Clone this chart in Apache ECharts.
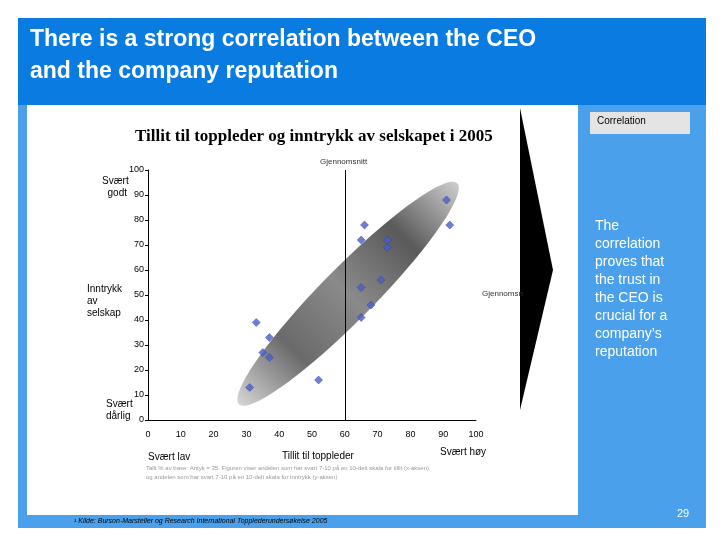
<!DOCTYPE html>
<html><head><meta charset="utf-8">
<script src="https://cdn.jsdelivr.net/npm/echarts@6/dist/echarts.min.js"></script>
<style>html,body{margin:0;padding:0;background:#fff}#ch{width:720px;height:540px}</style>
</head><body><div id="ch"></div>
<script>
var points = [[31,13],[33,39],[35,27],[37,33],[37,25],[52,16],[65,72],[66,78],[65,53],[65,41],[68,46],[71,56],[73,72],[73,69],[91,88],[92,78]];
var xTicks = [0,10,20,30,40,50,60,70,80,90,100];
var avgX = 60;
// ellipse: centre, half-length along main axis (data units), half-width
var ell = {cx: 61, cy: 50.5, ax: [33, 44.5], w: 9};

var ch = echarts.init(document.getElementById('ch'));
var op = {
  animation: false,
  grid: {left: 148, right: 244, top: 170, bottom: 120},
  xAxis: {
    type: 'value', min: 0, max: 100, interval: 10,
    axisLine: {lineStyle: {color: '#000'}}, axisTick: {show: false},
    splitLine: {show: false},
    axisLabel: {color: '#000', fontSize: 9, fontFamily: 'Liberation Sans', margin: 10}
  },
  yAxis: {
    type: 'value', min: 0, max: 100, interval: 10,
    axisLine: {show: true, lineStyle: {color: '#000'}}, axisTick: {show: true, length: 3},
    splitLine: {show: false},
    axisLabel: {color: '#000', fontSize: 9, fontFamily: 'Liberation Sans', margin: 4}
  },
  series: [{
    type: 'custom', silent: true, z: 1,
    data: [0],
    renderItem: function(params, api) {
      var pts = [];
      var len = Math.sqrt(ell.ax[0]*ell.ax[0] + ell.ax[1]*ell.ax[1]);
      var ux = ell.ax[0]/len, uy = ell.ax[1]/len;
      for (var i = 0; i < 72; i++) {
        var t = i / 72 * Math.PI * 2;
        var x = ell.cx + Math.cos(t)*ell.ax[0] + Math.sin(t)*ell.w*uy;
        var y = ell.cy + Math.cos(t)*ell.ax[1] - Math.sin(t)*ell.w*ux;
        pts.push(api.coord([x, y]));
      }
      return {type: 'polygon', shape: {points: pts},
        style: {fill: new echarts.graphic.LinearGradient(0, 1, 1, 0, [
          {offset: 0, color: '#d8d8d8'}, {offset: 0.25, color: '#6a6a6a'},
          {offset: 0.5, color: '#8a8a8a'}, {offset: 0.75, color: '#5a5a5a'}, {offset: 1, color: '#d0d0d0'}])}};
    }
  }, {
    type: 'scatter', symbol: 'diamond', symbolSize: 8, z: 3,
    itemStyle: {color: '#4a5fc8', borderColor: '#223399', borderWidth: 0.5},
    data: points,
    markLine: {
      silent: true, symbol: 'none', label: {show: false},
      lineStyle: {color: '#000', type: 'solid', width: 1},
      data: [{xAxis: avgX}]
    }
  }],
  graphic: [
    {type: 'rect', z: -10, shape: {x: 18, y: 18, width: 688, height: 510}, style: {fill: '#4aa0ea'}},
    {type: 'rect', z: -9, shape: {x: 18, y: 18, width: 688, height: 87}, style: {fill: '#0a7be0'}},
    {type: 'rect', z: -8, shape: {x: 27, y: 105, width: 551, height: 410}, style: {fill: '#fff'}},
    {type: 'text', left: 30, top: 24, style: {text: 'There is a strong correlation between the CEO\nand the company reputation', fill: '#fff', font: 'bold 23px Liberation Sans', lineHeight: 32}},
    {type: 'rect', shape: {x: 590, y: 112, width: 100, height: 22}, style: {fill: '#e4e4e4'}},
    {type: 'text', left: 597, top: 116, style: {text: 'Correlation', fill: '#000', font: '10px Liberation Sans'}},
    {type: 'polygon', shape: {points: [[520, 108], [553, 270], [520, 410]]}, style: {fill: '#000'}},
    {type: 'text', left: 595, top: 217, style: {text: 'The\ncorrelation\nproves that\nthe trust in\nthe CEO is\ncrucial for a\ncompany\u2019s\nreputation', fill: '#fff', font: '14px Liberation Sans', lineHeight: 18}},
    {type: 'text', left: 135, top: 128, style: {text: 'Tillit til toppleder og inntrykk av selskapet i 2005', fill: '#000', font: 'bold 17px Liberation Sans Narrow'}},
    {type: 'text', left: 320, top: 158, style: {text: 'Gjennomsnitt', fill: '#333', font: '8px Liberation Sans'}},
    {type: 'text', left: 482, top: 290, style: {text: 'Gjennomsn', fill: '#333', font: '8px Liberation Sans'}},
    {type: 'text', left: 102, top: 175, style: {text: 'Svært\n  godt', fill: '#000', font: '10px Liberation Sans', lineHeight: 12}},
    {type: 'text', left: 87, top: 283, style: {text: 'Inntrykk\nav\nselskap', fill: '#000', font: '10px Liberation Sans', lineHeight: 12}},
    {type: 'text', left: 106, top: 398, style: {text: 'Svært\ndårlig', fill: '#000', font: '10px Liberation Sans', lineHeight: 12}},
    {type: 'text', left: 148, top: 452, style: {text: 'Svært lav', fill: '#000', font: '10px Liberation Sans'}},
    {type: 'text', left: 282, top: 451, style: {text: 'Tillit til toppleder', fill: '#000', font: '10px Liberation Sans'}},
    {type: 'text', left: 440, top: 447, style: {text: 'Svært høy', fill: '#000', font: '10px Liberation Sans'}},
    {type: 'text', left: 146, top: 464, style: {text: 'Tallt % av base: Antyk = 35. Figuren viser andelen som har svart 7-10 på en 10-delt skala for tillit (x-aksen)\nog andelen som har svart 7-10 på en 10-delt skala for inntrykk (y-aksen)', fill: '#999', font: '6px Liberation Sans', lineHeight: 9}},
    {type: 'text', left: 74, top: 518, style: {text: '¹ Kilde: Burson-Marsteller og Research International Topplederundersøkelse 2005', fill: '#000', font: 'italic 7px Liberation Sans'}},
    {type: 'text', left: 677, top: 508, style: {text: '29', fill: '#fff', font: '11px Liberation Sans'}}
  ]
};
ch.setOption(op);
</script></body></html>
